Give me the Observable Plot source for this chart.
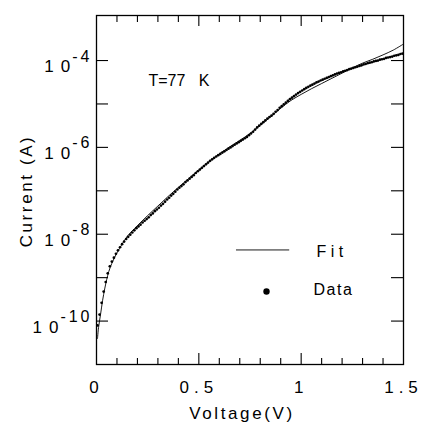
<!DOCTYPE html>
<html><head><meta charset="utf-8">
<script src="https://cdn.jsdelivr.net/npm/d3@7"></script>
<script src="https://cdn.jsdelivr.net/npm/@observablehq/plot@0.6"></script>
<style>body{margin:0;background:#fff}</style>
</head><body><div id="chart"></div>
<script>
// Measured data (dots): voltage (V) and log10 of current (A)
const dataVoltage = [
0.005,0.015,0.025,0.035,0.045,0.055,0.065,0.075,0.085,0.095,
0.105,0.115,0.125,0.135,0.145,0.155,0.165,0.175,0.185,0.195,
0.205,0.215,0.225,0.235,0.245,0.255,0.265,0.275,0.285,0.295,
0.305,0.315,0.325,0.335,0.345,0.355,0.365,0.375,0.385,0.395,
0.405,0.415,0.425,0.435,0.445,0.455,0.465,0.475,0.485,0.495,
0.505,0.515,0.525,0.535,0.545,0.555,0.565,0.575,0.585,0.595,
0.605,0.615,0.625,0.635,0.645,0.655,0.665,0.675,0.685,0.695,
0.705,0.715,0.725,0.735,0.745,0.755,0.765,0.775,0.785,0.795,
0.805,0.815,0.825,0.835,0.845,0.855,0.865,0.875,0.885,0.895,
0.905,0.915,0.925,0.935,0.945,0.955,0.965,0.975,0.985,0.995,
1.005,1.015,1.025,1.035,1.045,1.055,1.065,1.075,1.085,1.095,
1.105,1.115,1.125,1.135,1.145,1.155,1.165,1.175,1.185,1.195,
1.205,1.215,1.225,1.235,1.245,1.255,1.265,1.275,1.285,1.295,
1.305,1.315,1.325,1.335,1.345,1.355,1.365,1.375,1.385,1.395,
1.405,1.415,1.425,1.435,1.445,1.455,1.465,1.475,1.485,1.495];
const dataLogCurrent = [
-10.10,-9.85,-9.58,-9.32,-9.10,-8.90,-8.74,-8.63,-8.54,-8.45,
-8.37,-8.30,-8.23,-8.17,-8.11,-8.06,-8.01,-7.96,-7.91,-7.86,
-7.82,-7.78,-7.73,-7.69,-7.65,-7.61,-7.56,-7.52,-7.47,-7.43,
-7.39,-7.34,-7.30,-7.25,-7.20,-7.16,-7.11,-7.07,-7.02,-6.97,
-6.93,-6.89,-6.85,-6.80,-6.76,-6.72,-6.68,-6.64,-6.59,-6.55,
-6.51,-6.47,-6.43,-6.39,-6.35,-6.31,-6.275,-6.24,-6.21,-6.18,
-6.15,-6.12,-6.09,-6.06,-6.03,-6.00,-5.97,-5.94,-5.91,-5.88,
-5.85,-5.82,-5.79,-5.76,-5.72,-5.68,-5.64,-5.59,-5.54,-5.50,
-5.46,-5.42,-5.38,-5.34,-5.30,-5.27,-5.23,-5.18,-5.14,-5.09,
-5.05,-5.01,-4.97,-4.93,-4.89,-4.855,-4.82,-4.785,-4.75,-4.72,
-4.69,-4.66,-4.63,-4.605,-4.58,-4.555,-4.53,-4.505,-4.485,-4.46,
-4.44,-4.42,-4.40,-4.38,-4.36,-4.34,-4.32,-4.30,-4.285,-4.27,
-4.25,-4.235,-4.22,-4.20,-4.185,-4.17,-4.155,-4.14,-4.125,-4.11,
-4.09,-4.08,-4.06,-4.05,-4.04,-4.02,-4.01,-4.00,-3.98,-3.97,
-3.96,-3.94,-3.93,-3.92,-3.91,-3.89,-3.88,-3.87,-3.85,-3.84];

// Fit curve
const fitVoltage = [0.005,0.01,0.02,0.03,0.04,0.05,0.06,0.075,0.1,0.125,0.15,0.2,0.25,0.3,0.35,0.4,0.45,0.5,0.55,0.6,0.65,0.7,0.75,0.8,0.85,0.9,0.95,1.0,1.05,1.1,1.15,1.2,1.25,1.3,1.35,1.4,1.45,1.5];
const fitLogCurrent = [-10.40,-10.15,-9.84,-9.52,-9.26,-9.04,-8.86,-8.67,-8.43,-8.23,-8.05,-7.80,-7.57,-7.35,-7.13,-6.92,-6.72,-6.52,-6.33,-6.15,-5.99,-5.84,-5.68,-5.49,-5.30,-5.10,-4.92,-4.78,-4.65,-4.53,-4.41,-4.29,-4.17,-4.06,-3.97,-3.87,-3.76,-3.62];

// Ticks and labels
const yTicks = [1e-10,1e-9,1e-8,1e-7,1e-6,1e-5,1e-4];
const yTickLabels = [1e-10,1e-8,1e-6,1e-4];
const xMajorTicks = [0.5, 1];
const xMinorTicks = [0.1,0.2,0.3,0.4,0.6,0.7,0.8,0.9,1.1,1.2,1.3,1.4];
const xTickLabels = [0, 0.5, 1, 1.5];
const xLabel = "Voltage(V)";
const yLabel = "Current (A)";
const annotation = "T=77\u00a0\u00a0\u00a0K";
const legendFit = "Fit";
const legendData = "Data";

const dataRows = dataVoltage.map((v, i) => ({v, i: 10 ** dataLogCurrent[i]}));
const fitRows = fitVoltage.map((v, i) => ({v, i: 10 ** fitLogCurrent[i]}));

const W = 422, H = 425, mL = 96, mR = 19, mT = 15, mB = 61;
const fw = W - mL - mR, fh = H - mT - mB;
const font = "'Liberation Sans', Arial, Helvetica, sans-serif";

const svg = Plot.plot({
  width: W, height: H,
  marginLeft: mL, marginRight: mR, marginTop: mT, marginBottom: mB,
  style: {fontFamily: font, background: "#fff", color: "#000", overflow: "visible"},
  x: {domain: [0, 1.5]},
  y: {type: "log", domain: [1e-11, 10 ** -2.963]},
  marks: [
    // data and fit
    Plot.line(fitRows, {x: "v", y: "i", stroke: "#000", strokeWidth: 0.9, curve: "catmull-rom"}),
    Plot.dot(dataRows, {x: "v", y: "i", r: 1.35, fill: "#000", stroke: null}),
    // frame
    Plot.frame({stroke: "#000", strokeWidth: 1.3}),
    // inward ticks
    Plot.tickY(yTicks, {y: d => d, insetRight: fw - 12, stroke: "#000", strokeWidth: 1.1}),
    Plot.tickY(yTicks, {y: d => d, insetLeft: fw - 12, stroke: "#000", strokeWidth: 1.1}),
    Plot.tickX(xMajorTicks, {x: d => d, insetTop: fh - 11, stroke: "#000", strokeWidth: 1.1}),
    Plot.tickX(xMinorTicks, {x: d => d, insetTop: fh - 6, stroke: "#000", strokeWidth: 1.1}),
    Plot.tickX(xMajorTicks, {x: d => d, insetBottom: fh - 11, stroke: "#000", strokeWidth: 1.1}),
    Plot.tickX(xMinorTicks, {x: d => d, insetBottom: fh - 7, stroke: "#000", strokeWidth: 1.1}),
    // tick labels
    Plot.axisX(xTickLabels, {tickSize: 0, tickPadding: 16, fontSize: 17, tickFormat: d => String(d), label: null}),
    Plot.axisY(yTickLabels, {tickSize: 0, tickPadding: 4, fontSize: 17, dy: 6,
      tickFormat: d => "10^" + Math.round(Math.log10(d)), label: null}),
    // axis titles
    Plot.text([xLabel], {frameAnchor: "bottom", dx: -8, dy: 49, fontSize: 17, textAnchor: "middle", lineAnchor: "middle", text: d => d}),
    Plot.text([yLabel], {frameAnchor: "left", dx: -70, dy: 1, fontSize: 17, rotate: -90, textAnchor: "middle", lineAnchor: "middle", text: d => d}),
    // annotation
    Plot.text([annotation], {frameAnchor: "top-left", dx: 52, dy: 65, fontSize: 16, textAnchor: "start", lineAnchor: "middle", text: d => d}),
    // legend
    Plot.ruleY([10 ** -8.362], {x1: 0.684, x2: 0.944, stroke: "#000", strokeWidth: 0.9}),
    Plot.text([legendFit], {frameAnchor: "top-left", dx: 220, dy: 236, fontSize: 16, textAnchor: "start", lineAnchor: "middle", text: d => d}),
    Plot.dot([0], {frameAnchor: "top-left", dx: 170, dy: 276, r: 3.2, fill: "#000", stroke: null}),
    Plot.text([legendData], {frameAnchor: "top-left", dx: 217, dy: 274.5, fontSize: 16, textAnchor: "start", lineAnchor: "middle", text: d => d})
  ]
});

const s = d3.select(svg);
// y tick labels: base "10" with a raised exponent
s.selectAll('[aria-label="y-axis tick label"] text').each(function() {
  const t = d3.select(this);
  const [b, e] = t.text().split("^");
  t.text(null);
  t.append("tspan").attr("letter-spacing", "7px").text(b.slice(0, 1));
  t.append("tspan").attr("letter-spacing", "2px").text(b.slice(1));
  t.append("tspan").attr("dy", "-0.65em").attr("font-size", "16px").attr("letter-spacing", "3px").text(e);
});
s.selectAll('[aria-label="x-axis tick label"] text').attr("letter-spacing", "5px");
s.selectAll("text").each(function() {
  const t = d3.select(this), c = t.text();
  if (c === xLabel || c === yLabel) t.attr("letter-spacing", "2.6px");
  if (c === legendFit) t.attr("letter-spacing", "4.5px");
  if (c === legendData) t.attr("letter-spacing", "1.5px");
});
document.getElementById("chart").appendChild(svg);
</script>
</body></html>
